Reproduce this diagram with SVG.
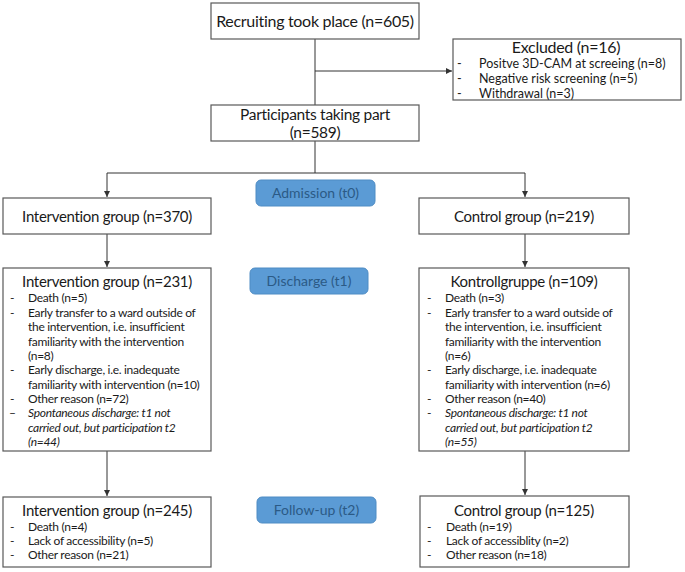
<svg xmlns="http://www.w3.org/2000/svg" width="685" height="572" viewBox="0 0 685 572">
  <style>
    .box { fill: #ffffff; stroke: #595959; stroke-width: 1.2; }
    .badge { fill: #5b9bd5; stroke: #4f8cc4; stroke-width: 1; }
    .badge-text { font-family: Lato, "Open Sans", sans-serif; font-size: 14px; fill: #2b5a86; text-anchor: middle; }
    .title { font-family: Lato, "Open Sans", sans-serif; font-size: 15px; letter-spacing: -0.3px; fill: #1a1a1a; text-anchor: middle; }
    .item { font-family: Lato, "Open Sans", sans-serif; font-size: 12px; letter-spacing: -0.3px; fill: #1a1a1a; }
    .ex { font-size: 12.5px; letter-spacing: 0; }
    .it { font-style: italic; }
    .conn { fill: none; stroke: #333333; stroke-width: 1; }
  </style>
  <defs>
    <marker id="arrow" viewBox="0 0 8 8" refX="8" refY="4" markerWidth="6" markerHeight="6" orient="auto">
      <path d="M0,0 L8,4 L0,8 z" fill="#333333"/>
    </marker>
  </defs>
  <rect width="685" height="572" fill="#ffffff"/>

  <!-- connectors -->
  <g id="connectors">
    <path class="conn" d="M315,39 V105"/>
    <path class="conn" d="M315,71 H452" marker-end="url(#arrow)"/>
    <path class="conn" d="M315,141 V173"/>
    <path class="conn" d="M107,173 H525"/>
    <path class="conn" d="M107,173 V197" marker-end="url(#arrow)"/>
    <path class="conn" d="M525,173 V197" marker-end="url(#arrow)"/>
    <path class="conn" d="M107,234 V267" marker-end="url(#arrow)"/>
    <path class="conn" d="M525,234 V267" marker-end="url(#arrow)"/>
    <path class="conn" d="M107,451 V496" marker-end="url(#arrow)"/>
    <path class="conn" d="M525,451 V495" marker-end="url(#arrow)"/>
  </g>

  <!-- recruitment -->
  <g id="recruiting">
    <rect class="box" x="211" y="3" width="208" height="36"/>
    <text class="title" x="315" y="26.5" style="font-size:16px">Recruiting took place (n=605)</text>
  </g>

  <g id="excluded">
    <rect class="box" x="453" y="39" width="228" height="61"/>
    <text class="title" x="566" y="52.5" style="font-size:16px">Excluded (n=16)</text>
    <text class="item ex" x="457" y="68">-</text>
    <text class="item ex" x="479" y="68">Positve 3D-CAM at screeing (n=8)</text>
    <text class="item ex" x="457" y="83">-</text>
    <text class="item ex" x="479" y="83">Negative risk screening (n=5)</text>
    <text class="item ex" x="457" y="97.5">-</text>
    <text class="item ex" x="479" y="97.5">Withdrawal (n=3)</text>
  </g>

  <g id="participants">
    <rect class="box" x="211" y="105" width="208" height="36"/>
    <text class="title" x="315" y="119.5" style="font-size:15.5px">Participants taking part</text>
    <text class="title" x="315" y="137.5" style="font-size:15.5px">(n=589)</text>
  </g>

  <!-- phase labels -->
  <g id="admission">
    <rect class="badge" x="256" y="180" width="119" height="26" rx="5"/>
    <text class="badge-text" x="315.5" y="198">Admission (t0)</text>
  </g>
  <g id="discharge">
    <rect class="badge" x="250" y="268" width="118" height="26" rx="5"/>
    <text class="badge-text" x="309" y="286">Discharge (t1)</text>
  </g>
  <g id="followup">
    <rect class="badge" x="257" y="497" width="119" height="26" rx="5"/>
    <text class="badge-text" x="316.5" y="515">Follow-up (t2)</text>
  </g>

  <!-- intervention arm -->
  <g id="intervention-t0">
    <rect class="box" x="3" y="198" width="208" height="36"/>
    <text class="title" x="107" y="221.5">Intervention group (n=370)</text>
  </g>

  <g id="intervention-t1">
    <rect class="box" x="3" y="268" width="208" height="183"/>
    <text class="title" x="107" y="287">Intervention group (n=231)</text>
    <text class="item" x="10" y="302">-</text>
    <text class="item" x="28" y="302">Death (n=5)</text>
    <text class="item" x="10" y="316.5">-</text>
    <text class="item" x="28" y="316.5">Early transfer to a ward outside of</text>
    <text class="item" x="28" y="331">the intervention, i.e. insufficient</text>
    <text class="item" x="28" y="345.5">familiarity with the intervention</text>
    <text class="item" x="28" y="360">(n=8)</text>
    <text class="item" x="10" y="374">-</text>
    <text class="item" x="28" y="374">Early discharge, i.e. inadequate</text>
    <text class="item" x="28" y="388.5">familiarity with intervention (n=10)</text>
    <text class="item" x="10" y="402.5">-</text>
    <text class="item" x="28" y="402.5">Other reason (n=72)</text>
    <text class="item" x="9" y="417">–</text>
    <text class="item it" x="28" y="417">Spontaneous discharge: t1 not</text>
    <text class="item it" x="28" y="431.5">carried out, but participation t2</text>
    <text class="item it" x="28" y="446">(n=44)</text>
  </g>

  <g id="intervention-t2">
    <rect class="box" x="3" y="497" width="208" height="70"/>
    <text class="title" x="107" y="516">Intervention group (n=245)</text>
    <text class="item" x="10" y="531">-</text>
    <text class="item" x="28" y="531">Death (n=4)</text>
    <text class="item" x="10" y="545">-</text>
    <text class="item" x="28" y="545">Lack of accessibility (n=5)</text>
    <text class="item" x="10" y="559">-</text>
    <text class="item" x="28" y="559">Other reason (n=21)</text>
  </g>

  <!-- control arm -->
  <g id="control-t0">
    <rect class="box" x="419" y="198" width="210" height="36"/>
    <text class="title" x="524" y="221.5">Control group (n=219)</text>
  </g>

  <g id="control-t1">
    <rect class="box" x="419" y="268" width="210" height="183"/>
    <text class="title" x="524" y="287">Kontrollgruppe (n=109)</text>
    <text class="item" x="427" y="302">-</text>
    <text class="item" x="445" y="302">Death (n=3)</text>
    <text class="item" x="427" y="316.5">-</text>
    <text class="item" x="445" y="316.5">Early transfer to a ward outside of</text>
    <text class="item" x="445" y="331">the intervention, i.e. insufficient</text>
    <text class="item" x="445" y="345.5">familiarity with the intervention</text>
    <text class="item" x="445" y="360">(n=6)</text>
    <text class="item" x="427" y="374">-</text>
    <text class="item" x="445" y="374">Early discharge, i.e. inadequate</text>
    <text class="item" x="445" y="388.5">familiarity with intervention (n=6)</text>
    <text class="item" x="427" y="402.5">-</text>
    <text class="item" x="445" y="402.5">Other reason (n=40)</text>
    <text class="item" x="427" y="417">-</text>
    <text class="item it" x="445" y="417">Spontaneous discharge: t1 not</text>
    <text class="item it" x="445" y="431.5">carried out, but participation t2</text>
    <text class="item it" x="445" y="446">(n=55)</text>
  </g>

  <g id="control-t2">
    <rect class="box" x="420" y="496" width="209" height="71"/>
    <text class="title" x="524" y="516">Control group (n=125)</text>
    <text class="item" x="427" y="531">-</text>
    <text class="item" x="446" y="531">Death (n=19)</text>
    <text class="item" x="427" y="545">-</text>
    <text class="item" x="446" y="545">Lack of accessiblity (n=2)</text>
    <text class="item" x="427" y="559">-</text>
    <text class="item" x="446" y="559">Other reason (n=18)</text>
  </g>
</svg>
